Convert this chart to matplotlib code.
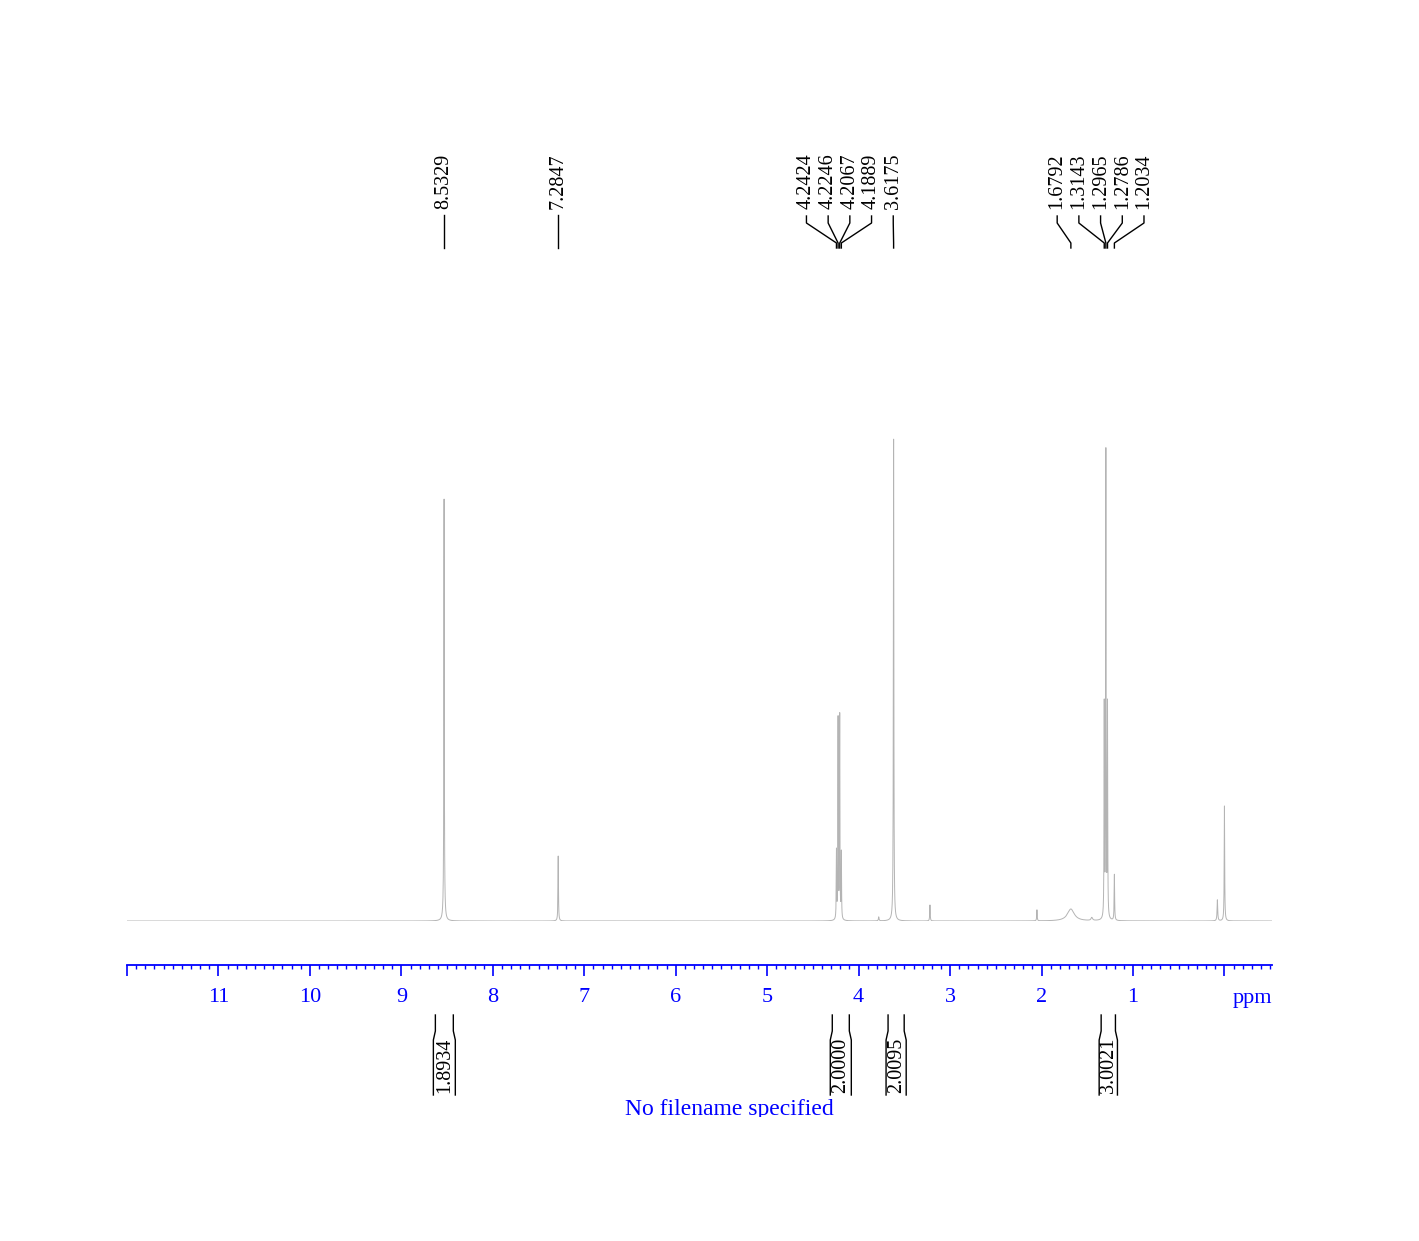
import numpy as np
import matplotlib
matplotlib.use('Agg')
import matplotlib.pyplot as plt
from matplotlib.transforms import Bbox

# Peaks: position (ppm), height (arb.), half width (ppm)
peak_ppm = [8.5329, 8.5329, 7.2847, 4.2424, 4.2246, 4.2067, 4.1889, 3.78, 3.6175,
            3.22, 2.05, 1.6792, 1.45, 1.3143, 1.2965, 1.2786, 1.2034, 0.077, 0.0]
peak_height = [377, 45, 65, 68, 200, 203, 66, 4, 482,
               16, 11, 12, 3, 212, 465, 212, 46, 21, 115]
peak_width = [0.0025, 0.006, 0.003, 0.0025, 0.0025, 0.0025, 0.0025, 0.004, 0.003,
              0.003, 0.003, 0.045, 0.01, 0.0025, 0.0025, 0.0025, 0.003, 0.004, 0.003]

# Peak pick labels, grouped as in the plot
label_groups = [
    [8.5329],
    [7.2847],
    [4.2424, 4.2246, 4.2067, 4.1889, 3.6175],
    [1.6792, 1.3143, 1.2965, 1.2786, 1.2034],
]

# Integrals: (from ppm, to ppm, value)
integral_start = [8.65, 4.31, 3.70, 1.37]
integral_end = [8.41, 4.08, 3.48, 1.17]
integral_value = ['1.8934', '2.0000', '2.0095', '3.0021']

major_ticks = list(range(0, 13))
tick_labels = ['' if t in (0, 12) else str(t) for t in major_ticks]

W, H = 1419, 1241
X_LEFT, X_RIGHT = 127, 1272
PPM_LEFT, PPM_RIGHT = 12.0, -0.52
PX_PER_PPM = (X_RIGHT - X_LEFT) / (PPM_LEFT - PPM_RIGHT)
BASE_Y = 921
SERIF = 'Liberation Serif'


def spectrum(x):
    y = np.zeros_like(x)
    for p, h, w in zip(peak_ppm, peak_height, peak_width):
        y += h * w**2 / ((x - p)**2 + w**2)
    return y


fig = plt.figure(figsize=(W / 100, H / 100), dpi=100)
fx0 = X_LEFT / W
fw = (X_RIGHT - X_LEFT) / W

# spectrum axes, baseline at BASE_Y, 1 unit = 1 px
ax = fig.add_axes([fx0, (H - BASE_Y) / H, fw, 500 / H])
x = np.linspace(PPM_RIGHT, PPM_LEFT, 80000)
ax.plot(x, spectrum(x), color='#b4b4b4', lw=0.7)
ax.set_xlim(PPM_LEFT, PPM_RIGHT)
ax.set_ylim(0, 500)
ax.patch.set_alpha(0)
for s in ['top', 'left', 'right']:
    ax.spines[s].set_visible(False)
ax.spines['bottom'].set_position(('outward', 44 * 0.72))
ax.spines['bottom'].set_color('blue')
ax.spines['bottom'].set_linewidth(1.3)
ax.set_yticks([])
ax.set_xticks(major_ticks)
ax.set_xticklabels(tick_labels, fontsize=16, family=SERIF, color='blue')
ax.set_xticks(np.arange(-0.5, 12.01, 0.1), minor=True)
ax.tick_params(axis='x', which='major', direction='out', length=8, width=1.2,
               color='blue', pad=8.5)
ax.tick_params(axis='x', which='minor', direction='out', length=2.6, width=1.0,
               color='blue')

# annotation axes: x in ppm, y in pixel rows from the top
an = fig.add_axes([fx0, 0, fw, 1])
an.set_xlim(PPM_LEFT, PPM_RIGHT)
an.set_ylim(H, 0)
an.axis('off')
an.patch.set_alpha(0)

step = 21.7 / PX_PER_PPM
for group in label_groups:
    n = len(group)
    center = np.mean(group)
    spots = [center + step * ((n - 1) / 2 - i) for i in range(n)]
    for lab, pk in zip(spots, group):
        an.text(lab, 209, f'{pk:.4f}', rotation=90, ha='center', va='bottom',
                fontsize=14.5, family=SERIF, color='black')
        if n == 1:
            an.plot([pk, pk], [215, 248], color='black', lw=1)
        else:
            an.plot([lab, lab, pk, pk], [216, 223, 243, 248], color='black', lw=1)

# integral brackets
inset = 2 / PX_PER_PPM
for a, b, v in zip(integral_start, integral_end, integral_value):
    an.plot([a - inset, a - inset, a, a], [1015, 1031, 1040, 1095], color='black', lw=1)
    an.plot([b + inset, b + inset, b, b], [1015, 1031, 1040, 1095], color='black', lw=1)
    an.text((a + b) / 2, 1093, v, rotation=90, ha='center', va='bottom',
            fontsize=14.5, family=SERIF, color='black')

an.text(PPM_RIGHT, 1003, 'ppm', ha='right', va='baseline', fontsize=16,
        family=SERIF, color='blue')

t = an.text(PPM_LEFT - (729.5 - X_LEFT) / PX_PER_PPM, 1115, 'No filename specified',
            ha='center', va='baseline', fontsize=17, family=SERIF, color='blue')
t.set_clip_on(True)
t.set_clip_box(Bbox([[0, H - 1117], [W, H]]))

fig.savefig('out.png', dpi=100)
